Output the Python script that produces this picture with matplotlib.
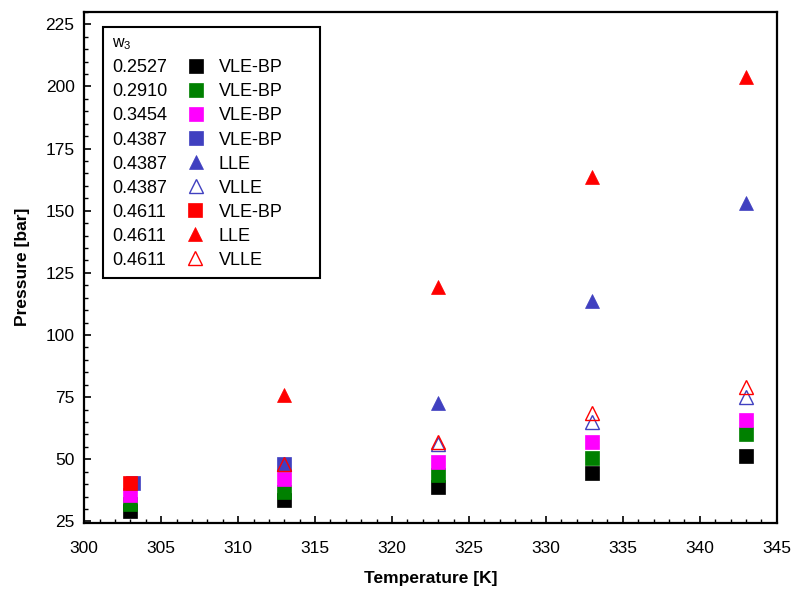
#!/usr/bin/env python3
import matplotlib
matplotlib.use("Agg")
import matplotlib.pyplot as plt
from matplotlib.lines import Line2D

plt.rcParams["font.family"] = ["Liberation Sans", "DejaVu Sans"]
plt.rcParams["mathtext.fontset"] = "custom"
plt.rcParams["mathtext.rm"] = "Liberation Sans"
plt.rcParams["mathtext.it"] = "Liberation Sans"

# temperatures [K]
T = [303, 313, 323, 333, 343]

# VLE bubble points [bar]
p_2527 = [29.4, 33.6, 39.0, 44.7, 51.4]
p_2910 = [32.0, 36.7, 43.9, 50.5, 60.0]
p_3454 = [35.5, 41.9, 49.1, 57.0, 66.0]
T_4387_bp = [303.15, 313]
p_4387_bp = [40.3, 48.1]
T_4611_bp = [303]
p_4611_bp = [40.3]

# LLE and VLLE [bar]
T_4387_lle = [323, 333, 343]
p_4387_lle = [72.5, 113.8, 153.2]
T_4387_vlle = [313, 323, 333, 343]
p_4387_vlle = [48.0, 56.0, 65.2, 74.9]
T_4611_lle = [313, 323, 333, 343]
p_4611_lle = [75.7, 119.2, 163.6, 203.8]
T_4611_vlle = [313, 323, 333, 343]
p_4611_vlle = [48.0, 56.8, 68.5, 78.9]

blue = "#4040c0"

series = [
    # w3, kind, T, p, marker, color, filled
    ("0.2527", "VLE-BP", T, p_2527, "s", "black", True),
    ("0.2910", "VLE-BP", T, p_2910, "s", "green", True),
    ("0.3454", "VLE-BP", T, p_3454, "s", "magenta", True),
    ("0.4387", "VLE-BP", T_4387_bp, p_4387_bp, "s", blue, True),
    ("0.4387", "LLE", T_4387_lle, p_4387_lle, "^", blue, True),
    ("0.4387", "VLLE", T_4387_vlle, p_4387_vlle, "^", blue, False),
    ("0.4611", "VLE-BP", T_4611_bp, p_4611_bp, "s", "red", True),
    ("0.4611", "LLE", T_4611_lle, p_4611_lle, "^", "red", True),
    ("0.4611", "VLLE", T_4611_vlle, p_4611_vlle, "^", "red", False),
]

fig = plt.figure(figsize=(7.95, 5.90), dpi=100)
ax = fig.add_axes([0.106, 0.114, 0.871, 0.866])

handles = []
for w3, kind, x, y, mk, c, filled in series:
    ms = 10.5 if mk == "s" else 9.5
    h, = ax.plot(x, y, ls="none", marker=mk, ms=ms,
                 mfc=c if filled else "none", mec=c, mew=1.0 if not filled else 0.5)
    handles.append(h)

# two columns: "w3 value  marker" | "type"
blank = [Line2D([], [], ls="none") for _ in series]
labels = [s[0] for s in series] + [s[1] for s in series]
leg = ax.legend(handles + blank, labels, ncol=2, markerfirst=False,
                loc="upper left", bbox_to_anchor=(0.027, 0.971), borderaxespad=0,
                title="w$_3$", alignment="left", fontsize=13, title_fontsize=11.5,
                handlelength=1.0, handletextpad=1.1, columnspacing=0.75,
                borderpad=0.5, labelspacing=0.39, fancybox=False, framealpha=1,
                edgecolor="black")
leg.get_frame().set_linewidth(1.5)
cols = leg._legend_handle_box.get_children()
for col in cols:
    col.align = "left"
for item in cols[1].get_children():
    item.sep = 7.4

ax.set_xlim(300, 345)
ax.set_ylim(24.5, 230)
ax.set_xticks(range(300, 346, 5))
ax.set_xticks(range(300, 346, 1), minor=True)
ax.set_yticks(range(25, 226, 25))
ax.set_yticks(range(25, 231, 5), minor=True)
ax.tick_params(which="both", direction="in", labelsize=12.5)
ax.tick_params(which="major", length=5, width=1.2)
ax.tick_params(which="minor", length=3, width=1.0)
ax.tick_params(axis="x", pad=13)
ax.tick_params(axis="y", pad=7)
for sp in ax.spines.values():
    sp.set_linewidth(1.6)

ax.set_xlabel("Temperature [K]", fontsize=12.5, fontweight="bold", labelpad=11)
ax.set_ylabel("Pressure [bar]", fontsize=12.5, fontweight="bold", labelpad=11)

fig.savefig("out.png", dpi=100)
